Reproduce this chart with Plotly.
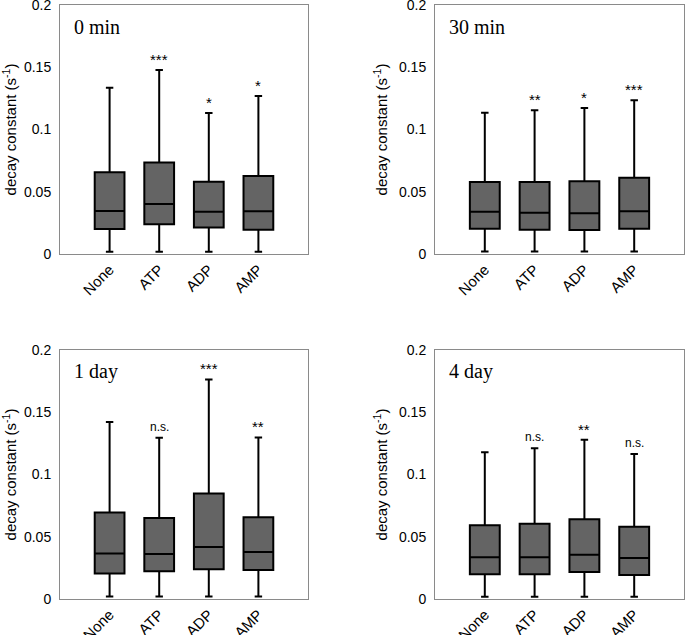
import plotly.graph_objects as go

categories = ["None", "ATP", "ADP", "AMP"]
panel_titles = ["0 min", "30 min", "1 day", "4 day"]

# per panel: lower whisker, Q1, median, Q3, upper whisker
lower = [
    [0.0019, 0.0019, 0.0019, 0.0019],
    [0.0020, 0.0020, 0.0020, 0.0020],
    [0.0021, 0.0021, 0.0021, 0.0021],
    [0.0019, 0.0019, 0.0019, 0.0019],
]
q1 = [
    [0.0201, 0.0238, 0.0212, 0.0195],
    [0.0203, 0.0195, 0.0193, 0.0203],
    [0.0204, 0.0223, 0.0239, 0.0233],
    [0.0198, 0.0198, 0.0217, 0.0193],
]
median = [
    [0.0345, 0.0402, 0.0340, 0.0343],
    [0.0340, 0.0332, 0.0327, 0.0343],
    [0.0365, 0.0362, 0.0418, 0.0378],
    [0.0335, 0.0335, 0.0356, 0.0329],
]
q3 = [
    [0.0656, 0.0734, 0.0581, 0.0627],
    [0.0578, 0.0578, 0.0584, 0.0613],
    [0.0694, 0.0651, 0.0847, 0.0657],
    [0.0592, 0.0605, 0.0640, 0.0581],
]
upper = [
    [0.1336, 0.1478, 0.1133, 0.1269],
    [0.1135, 0.1154, 0.1173, 0.1234],
    [0.1421, 0.1295, 0.1764, 0.1298],
    [0.1178, 0.1210, 0.1280, 0.1165],
]
significance = [
    ["", "***", "*", "*"],
    ["", "**", "*", "***"],
    ["", "n.s.", "***", "**"],
    ["", "n.s.", "**", "n.s."],
]

W, H = 685, 635
x_doms = [[60 / W, 308 / W], [435 / W, 684 / W]]
y_doms = [[1 - 254 / H, 1 - 5 / H], [1 - 599 / H, 1 - 350 / H]]

fig = go.Figure()
layout = dict(
    width=W, height=H,
    margin=dict(l=0, r=0, t=0, b=0),
    paper_bgcolor="white", plot_bgcolor="white",
    showlegend=False,
    font=dict(family="Liberation Sans, Arial, sans-serif", color="black", size=14),
)
annotations = []
frame = "#8a8a8a"

for i in range(4):
    r, c = divmod(i, 2)
    n = i + 1
    xa = "x" if n == 1 else f"x{n}"
    ya = "y" if n == 1 else f"y{n}"
    fig.add_trace(go.Box(
        x=categories,
        q1=q1[i], median=median[i], q3=q3[i],
        lowerfence=lower[i], upperfence=upper[i],
        width=0.6, whiskerwidth=0.25,
        fillcolor="#646464",
        line=dict(color="black", width=2),
        boxpoints=False,
        hoverinfo="skip",
        xaxis=xa, yaxis=ya,
    ))
    layout[f"xaxis{'' if n == 1 else n}"] = dict(
        domain=x_doms[c], anchor=ya, automargin=False, ticklabeloverflow="allow",
        type="category", categoryorder="array", categoryarray=categories,
        range=[-1, 4],
        showline=True, linecolor=frame, linewidth=1, mirror=True,
        ticks="", showgrid=False, zeroline=False,
        tickangle=-45, tickfont=dict(size=15),
    )
    layout[f"yaxis{'' if n == 1 else n}"] = dict(
        domain=y_doms[r], anchor=xa, automargin=False, ticklabeloverflow="allow",
        range=[0, 0.2], tickvals=[0, 0.05, 0.1, 0.15, 0.2],
        ticktext=["0", "0.05", "0.1", "0.15", "0.2"],
        showline=True, linecolor=frame, linewidth=1, mirror=True,
        ticks="", showgrid=False, zeroline=False,
        tickfont=dict(size=14), ticklabelstandoff=5,
        title=dict(text="decay constant (s<sup>-1</sup>)", font=dict(size=15), standoff=7),
    )
    # right-side inside ticks
    ov = 4 + n
    layout[f"yaxis{ov}"] = dict(
        domain=y_doms[r], anchor=xa, overlaying=ya, side="right", automargin=False,
        range=[0, 0.2], tickvals=[0.05, 0.1, 0.15],
        ticks="inside", ticklen=4, tickcolor=frame, tickwidth=1,
        showticklabels=False, showgrid=False, zeroline=False, showline=False,
    )
    annotations.append(dict(
        text=panel_titles[i], xref=f"{xa} domain", yref=f"{ya} domain",
        x=0.05, y=0.912, xanchor="left", yanchor="middle", showarrow=False,
        font=dict(family="Liberation Serif", size=20, color="black"),
    ))
    for k, cat in enumerate(categories):
        if significance[i][k]:
            star = significance[i][k] != "n.s."
            annotations.append(dict(
                text=significance[i][k], xref=xa, yref=ya,
                x=cat, y=upper[i][k], xanchor="center", yanchor="bottom",
                yshift=0 if star else 2, showarrow=False,
                font=dict(size=15 if star else 12, color="black"),
            ))

layout["annotations"] = annotations
fig.update_layout(**layout)
fig.write_html(
    "out.html",
    config={"displayModeBar": False, "staticPlot": True},
    post_script="document.body.style.margin='0';document.body.style.overflow='hidden';",
)
